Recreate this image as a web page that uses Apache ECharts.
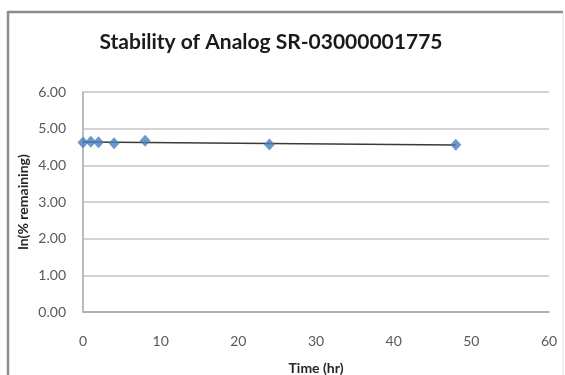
<!DOCTYPE html>
<html>
<head>
<meta charset="utf-8">
<script src="https://cdn.jsdelivr.net/npm/echarts@6/dist/echarts.min.js"></script>
<style>
  html, body { margin: 0; padding: 0; background: #fff; }
  #chart { width: 565px; height: 375px; }
</style>
</head>
<body>
<div id="chart"></div>
<script>
// Sampling times (hours) and measured ln(% remaining)
const timeHr = [0, 1, 2, 4, 8, 24, 48];
const lnRemaining = [4.62, 4.64, 4.63, 4.60, 4.67, 4.57, 4.56];

// Axis ranges
const xRange = { min: 0, max: 60, step: 10 };
const yRange = { min: 0, max: 6, step: 1 };

// Least-squares linear trendline over the measured span
function linearFit(xs, ys) {
  const n = xs.length;
  const mx = xs.reduce((a, b) => a + b, 0) / n;
  const my = ys.reduce((a, b) => a + b, 0) / n;
  let sxy = 0, sxx = 0;
  for (let i = 0; i < n; i++) {
    sxy += (xs[i] - mx) * (ys[i] - my);
    sxx += (xs[i] - mx) * (xs[i] - mx);
  }
  const slope = sxy / sxx;
  return { slope, intercept: my - slope * mx };
}
const fit = linearFit(timeHr, lnRemaining);
const tStart = Math.min(...timeHr), tEnd = Math.max(...timeHr);
const trend = [
  [tStart, fit.intercept + fit.slope * tStart],
  [tEnd, fit.intercept + fit.slope * tEnd]
];

const chart = echarts.init(document.getElementById('chart'), null, { renderer: 'canvas' });
const labelFont = 'Lato, "Open Sans", "DejaVu Sans", sans-serif';

chart.setOption({
  animation: false,
  backgroundColor: '#ffffff',
  title: {
    text: 'Stability of Analog SR-03000001775',
    left: 266,
    textAlign: 'center',
    top: 27,
    textStyle: { fontFamily: labelFont, fontSize: 21, fontWeight: 'bold', color: '#1a1a1a' }
  },
  graphic: [
    // chart frame: strong top/left edges, faint right edge
    { type: 'line', shape: { x1: 8, y1: 12, x2: 563, y2: 12 },
      style: { stroke: '#8c8c8c', lineWidth: 2.5 }, z: 100 },
    { type: 'line', shape: { x1: 8, y1: 11, x2: 8, y2: 375 },
      style: { stroke: '#8c8c8c', lineWidth: 2.5 }, z: 100 },
    { type: 'line', shape: { x1: 563, y1: 13, x2: 563, y2: 375 },
      style: { stroke: '#e4e4e4', lineWidth: 1 }, z: 100 }
  ],
  grid: { left: 83, right: 16, top: 92, bottom: 63, containLabel: false, outerBoundsMode: 'none' },
  xAxis: {
    type: 'value',
    min: xRange.min, max: xRange.max, interval: xRange.step,
    name: 'Time (hr)',
    nameLocation: 'middle',
    nameGap: 49,
    nameMoveOverlap: false,
    nameTextStyle: { fontFamily: labelFont, fontSize: 14, fontWeight: 'bold', color: '#262626' },
    axisLine: { show: true, lineStyle: { color: '#a6a6a6', width: 1.5 } },
    axisTick: { show: false },
    splitLine: { show: false },
    axisLabel: { margin: 22, fontFamily: labelFont, fontSize: 14, color: '#595959' }
  },
  yAxis: {
    type: 'value',
    min: yRange.min, max: yRange.max, interval: yRange.step,
    name: 'ln(% remaining)',
    nameLocation: 'middle',
    nameGap: 53,
    nameMoveOverlap: false,
    nameRotate: 90,
    nameTextStyle: { fontFamily: labelFont, fontSize: 14, fontWeight: 'bold', color: '#262626' },
    axisLine: { show: true, lineStyle: { color: '#a6a6a6', width: 1.5 } },
    axisTick: { show: false },
    splitLine: { show: true, lineStyle: { color: '#c4c4c4', width: 1.5 } },
    axisLabel: {
      margin: 17, fontFamily: labelFont, fontSize: 14, color: '#595959',
      formatter: v => v.toFixed(2)
    }
  },
  series: [
    {
      name: 'Trend',
      type: 'line',
      data: trend,
      symbol: 'none',
      lineStyle: { color: '#3a3a3a', width: 1.5 },
      z: 2
    },
    {
      name: 'ln(% remaining)',
      type: 'scatter',
      data: timeHr.map((t, i) => [t, lnRemaining[i]]),
      symbol: 'diamond',
      symbolSize: [11, 12],
      itemStyle: { color: '#4a7ebb' },
      z: 3
    }
  ]
});
</script>
</body>
</html>
